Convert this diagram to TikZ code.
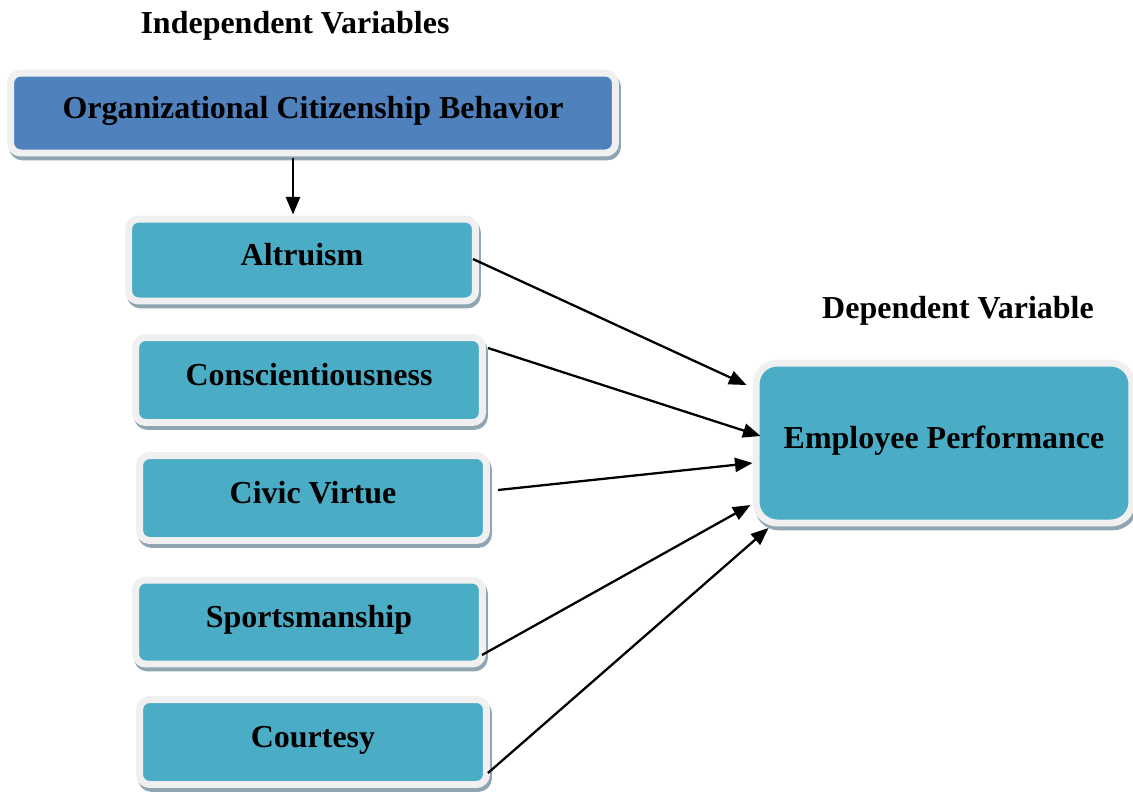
\documentclass[tikz,border=0pt]{standalone}
\usepackage{fontspec}
\setmainfont{Liberation Serif}
\usetikzlibrary{calc,shadows,arrows.meta}
\definecolor{boxfill}{HTML}{4BACC6}
\definecolor{topfill}{HTML}{4F81BD}
\definecolor{rimc}{HTML}{F0F0F0}
\definecolor{shadec}{HTML}{8FA5B2}
\begin{document}
\begin{tikzpicture}[x=0.02cm,y=-0.02cm,line join=round,
	font=\fontsize{18.2}{22}\selectfont\bfseries,
	varbox/.style={draw=rimc,line width=3.97pt,fill=boxfill,rounded corners=5.7pt,
		inner sep=0pt,text height=0.7em,text depth=0.1em,
		minimum width=6.94cm,minimum height=1.7cm,
		general shadow={fill=shadec,draw=shadec,line width=3.97pt,shadow xshift=1.1pt,shadow yshift=-2.2pt}},
	arr/.style={line width=1.3pt,-{Triangle[length=10pt,width=8pt]}}]
	\useasboundingbox (0,0) rectangle (1133,792);
	% headings
	\node (indep) at (295,26) {Independent Variables};
	\node (dep) at (958,311) {Dependent Variable};
	% boxes
	\node[varbox,fill=topfill,minimum width=12.1cm,minimum height=1.6cm] (ocb) at (313,113) {Organizational Citizenship Behavior};
	\node[varbox,minimum height=1.64cm] (alt) at (302,260) {Altruism};
	\node[varbox] (con) at (309,380) {Conscientiousness};
	\node[varbox] (civ) at (313,498) {Civic Virtue};
	\node[varbox,minimum height=1.68cm] (spo) at (309,622) {Sportsmanship};
	\node[varbox] (cou) at (313,742) {Courtesy};
	\node[varbox,rounded corners=12pt,minimum width=7.52cm,minimum height=3.2cm] (emp) at (944,443) {Employee Performance};
	% arrows
	\draw[arr] ($(ocb.south)+(-20,2)$) -- ($(alt.north)+(-9,-1)$);
	\foreach \n/\sx/\sy/\ex/\ey in {alt/-6/-1/-6/-58,con/2/-32/8/-7,civ/8/-8/0/20,spo/-4/33/-2/62,cou/-2/31/16/85}
	\draw[arr] ($(\n.east)+(\sx,\sy)$) -- ($(emp.west)+(\ex,\ey)$);
\end{tikzpicture}
\end{document}
